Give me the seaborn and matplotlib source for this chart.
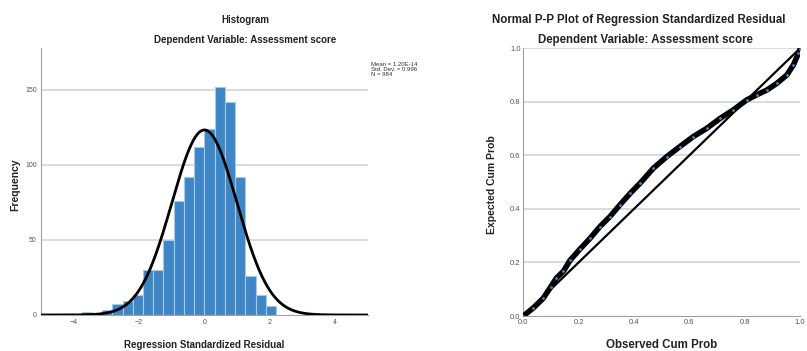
import numpy as np
import pandas as pd
import matplotlib
matplotlib.use("Agg")
import matplotlib.pyplot as plt
import seaborn as sns

# Histogram of standardized residuals (counts)
bin_width = 0.313
bin_start = -3.756
counts = [2, 0, 3, 7, 9, 13, 30, 30, 50, 76, 92, 112, 124, 152, 142, 92, 26, 13, 6]
res_mean = 1.20e-14
res_sd = 0.996
n_cases = 984

# P-P plot points (observed cum prob, expected cum prob)
pp_observed = [0.0, 0.036, 0.072, 0.10, 0.12, 0.145, 0.169, 0.205, 0.241, 0.277, 0.313,
               0.349, 0.386, 0.422, 0.47, 0.518, 0.566, 0.614, 0.663, 0.711, 0.759,
               0.807, 0.843, 0.88, 0.916, 0.952, 0.976, 0.994, 1.0]
pp_expected = [0.0, 0.03, 0.066, 0.11, 0.142, 0.167, 0.208, 0.25, 0.29, 0.334, 0.371,
               0.415, 0.458, 0.496, 0.552, 0.595, 0.633, 0.670, 0.701, 0.738, 0.770,
               0.807, 0.826, 0.844, 0.869, 0.90, 0.938, 0.981, 0.996]

sns.set_style("white")
plt.rcParams['font.family'] = ['Liberation Sans', 'DejaVu Sans']

edges = bin_start + bin_width * np.arange(len(counts) + 1)
centers = (edges[:-1] + edges[1:]) / 2
hist_df = pd.DataFrame({"resid": centers, "count": counts})

fig = plt.figure(figsize=(8.07, 3.51), dpi=100)
ax1 = fig.add_axes([0.0508, 0.1026, 0.405, 0.7607])
ax2 = fig.add_axes([0.6484, 0.0997, 0.343, 0.7627])

grid_c = "#d4d4d4"
spine_c = "#a0a0a0"
tick_c = "#555555"

# --- Histogram ---
for y in [50, 100, 150]:
    ax1.axhline(y, color=grid_c, lw=1.2, zorder=0)
sns.histplot(data=hist_df, x="resid", weights="count", binwidth=bin_width,
             binrange=(float(edges[0]), float(edges[-1])), ax=ax1,
             color="#3f86c6", edgecolor="#a8c8e8", linewidth=0.8, alpha=1, zorder=2)
xs = np.linspace(-5, 5, 400)
curve = n_cases * bin_width * np.exp(-0.5 * ((xs - res_mean) / res_sd) ** 2) / (res_sd * np.sqrt(2 * np.pi))
sns.lineplot(x=xs, y=curve, ax=ax1, color="black", lw=2, zorder=3)
ax1.set_xlim(-5, 5)
ax1.set_ylim(0, 178)
ax1.set_xticks([-4, -2, 0, 2, 4])
ax1.set_yticks([0, 50, 100, 150])
ax1.set_xlabel("")
ax1.set_ylabel("")
for s in ["top", "right"]:
    ax1.spines[s].set_visible(False)
for s in ["left", "bottom"]:
    ax1.spines[s].set_color(spine_c)
ax1.tick_params(labelsize=5, colors=tick_c, length=0, pad=3)

# --- P-P plot ---
for y in [0.2, 0.4, 0.6, 0.8, 1.0]:
    ax2.axhline(y, color=grid_c, lw=1.2, zorder=0)
sns.lineplot(x=[0, 1], y=[0, 1], ax=ax2, color="black", lw=1.6, zorder=2)
sns.lineplot(x=pp_observed, y=pp_expected, ax=ax2, color="black", lw=4, zorder=3, sort=False)
sns.scatterplot(x=pp_observed, y=pp_expected, ax=ax2, color="#3a8fd6", s=4, linewidth=0, zorder=4)
ax2.set_xlim(0, 1)
ax2.set_ylim(0, 1)
ax2.set_xticks([0, 0.2, 0.4, 0.6, 0.8, 1.0])
ax2.set_yticks([0, 0.2, 0.4, 0.6, 0.8, 1.0])
ax2.set_xticklabels(["0.0", "0.2", "0.4", "0.6", "0.8", "1.0"])
ax2.set_yticklabels(["0.0", "0.2", "0.4", "0.6", "0.8", "1.0"])
ax2.set_xlabel("")
ax2.set_ylabel("")
for s in ["top", "right"]:
    ax2.spines[s].set_visible(False)
for s in ["left", "bottom"]:
    ax2.spines[s].set_color(spine_c)
ax2.tick_params(labelsize=5.5, colors=tick_c, length=0, pad=2)

# --- Texts ---
bold = dict(fontweight="bold", color="#222222", ha="center", va="center")
fig.text(245 / 807, 1 - 20 / 351, "Histogram", fontsize=7, **bold)
fig.text(245 / 807, 1 - 40 / 351, "Dependent Variable: Assessment score", fontsize=7, **bold)
fig.text(204.5 / 807, 1 - 345 / 351, "Regression Standardized Residual", fontsize=7, **bold)
fig.text(15 / 807, 1 - 185 / 351, "Frequency", fontsize=7.5, rotation=90, **bold)
fig.text(639 / 807, 1 - 20 / 351, "Normal P-P Plot of Regression Standardized Residual", fontsize=8.3, **bold)
fig.text(645 / 807, 1 - 40 / 351, "Dependent Variable: Assessment score", fontsize=8.3, **bold)
fig.text(662 / 807, 1 - 345 / 351, "Observed Cum Prob", fontsize=8.3, **bold)
fig.text(492 / 807, 1 - 185 / 351, "Expected Cum Prob", fontsize=7.5, rotation=90, **bold)
fig.text(371 / 807, 1 - 62 / 351, "Mean = 1.20E-14\nStd. Dev. = 0.996\nN = 984",
         fontsize=4.3, color="#333333", ha="left", va="top", linespacing=1.0)

fig.savefig("out.png", dpi=100)
